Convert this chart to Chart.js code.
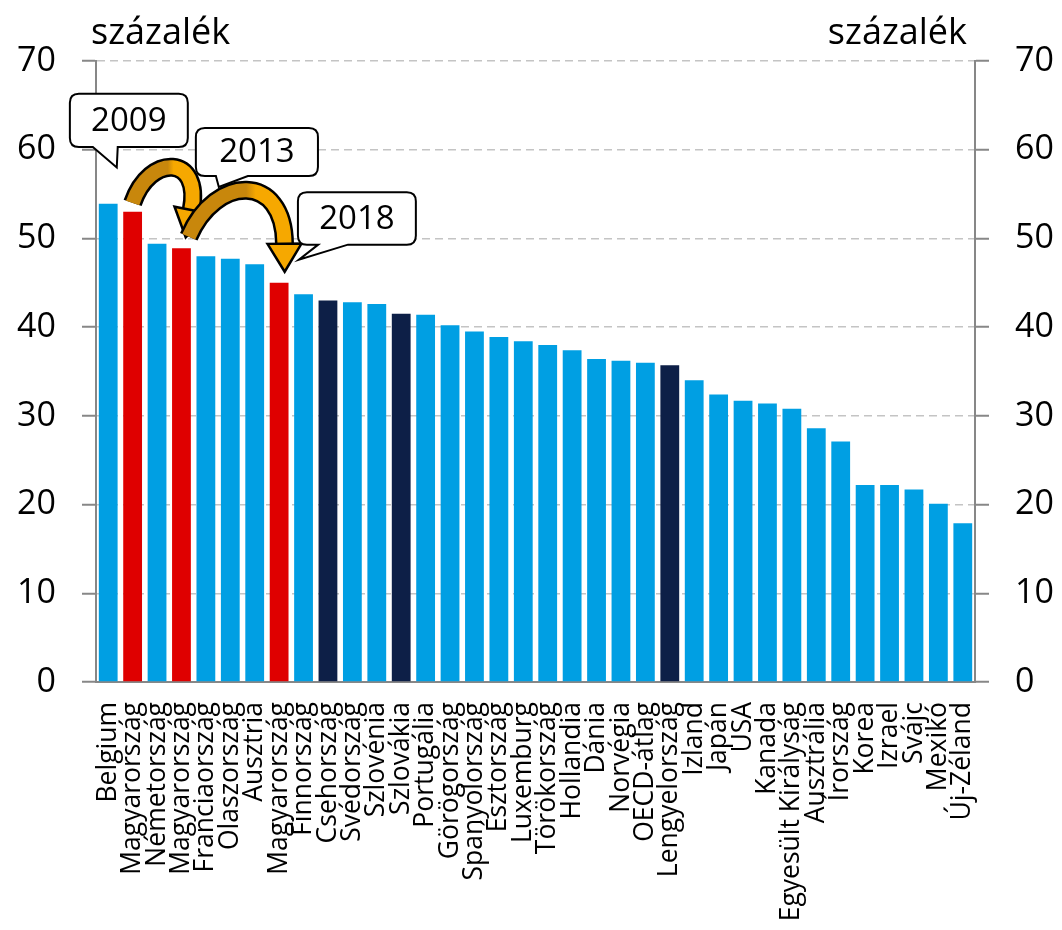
<!DOCTYPE html>
<html>
<head>
<meta charset="utf-8">
<script src="https://cdn.jsdelivr.net/npm/chart.js@4.4.1/dist/chart.umd.min.js"></script>
<style>
  html, body { margin: 0; padding: 0; background: #fff; }
  canvas { display: block; }
</style>
</head>
<body>
<canvas id="chart" width="1062" height="930"></canvas>
<script>
const countries = [
  'Belgium', 'Magyarország', 'Németország', 'Magyarország', 'Franciaország',
  'Olaszország', 'Ausztria', 'Magyarország', 'Finnország', 'Csehország',
  'Svédország', 'Szlovénia', 'Szlovákia', 'Portugália', 'Görögország',
  'Spanyolország', 'Észtország', 'Luxemburg', 'Törökország', 'Hollandia',
  'Dánia', 'Norvégia', 'OECD-átlag', 'Lengyelország', 'Izland',
  'Japán', 'USA', 'Kanada', 'Egyesült Királyság', 'Ausztrália',
  'Írország', 'Korea', 'Izrael', 'Svájc', 'Mexikó', 'Új-Zéland'
];
const values = [
  53.9, 53.0, 49.4, 48.9, 48.0,
  47.7, 47.1, 45.0, 43.7, 43.0,
  42.8, 42.6, 41.5, 41.4, 40.2,
  39.5, 38.9, 38.4, 38.0, 37.4,
  36.4, 36.2, 36.0, 35.7, 34.0,
  32.4, 31.7, 31.4, 30.8, 28.6,
  27.1, 22.2, 22.2, 21.7, 20.1, 17.9
];
const yTicks = [0, 10, 20, 30, 40, 50, 60, 70];
const unitLabel = 'százalék';
const visegrad = ['Csehország', 'Szlovákia', 'Lengyelország'];
const hungary = 'Magyarország';

// callouts: year text, box (category index / value units), tail base and tip
const callouts = [
  { text: '2009', x0: -1.57, x1: 3.26, top: 66.3, bottom: 60.3, tailA: -0.63, tailB: 0.39, tip: [0.35, 58.0] },
  { text: '2013', x0: 3.59, x1: 8.59, top: 62.45, bottom: 57.04, tailA: 4.41, tailB: 5.72, tip: [4.53, 55.8] },
  { text: '2018', x0: 7.77, x1: 12.6, top: 55.2, bottom: 49.3, tailA: 8.6, tailB: 9.82, tip: [7.81, 47.6] }
];
// curved arrows: start, control1, control2, end
const arrows = [
  [[1.0, 54.0], [1.7, 59.6], [3.85, 59.4], [3.4, 53.2]],
  [[3.3, 50.2], [4.4, 57.2], [7.2, 57.4], [7.22, 49.4]]
];

const BLUE = '#009FE3', RED = '#DF0000', NAVY = '#0D1F47', AXIS = '#878787';
const FONT = "'Open Sans', 'Liberation Sans', sans-serif";

const barColors = countries.map(c =>
  c === hungary ? RED : (visegrad.includes(c) ? NAVY : BLUE));

const annotations = {
  id: 'annotations',
  afterDraw(chart) {
    const ctx = chart.ctx;
    const xs = chart.scales.x, ys = chart.scales.y;
    const P = (i, v) => ({ x: xs.getPixelForValue(i), y: ys.getPixelForValue(v) });

    // unit labels
    ctx.save();
    ctx.fillStyle = '#000';
    ctx.font = '36px ' + FONT;
    ctx.textBaseline = 'alphabetic';
    ctx.textAlign = 'left';
    ctx.fillText(unitLabel, 91, 44);
    ctx.textAlign = 'right';
    ctx.fillText(unitLabel, 967, 44);
    ctx.restore();

    // arrows
    arrows.forEach(a => {
      const [s, c1, c2, e] = a.map(p => P(p[0], p[1]));
      const dx = e.x - c2.x, dy = e.y - c2.y, len = Math.hypot(dx, dy);
      const ux = dx / len, uy = dy / len, nx = -uy, ny = ux;
      const headLen = 28, headW = 17;
      ctx.save();
      ctx.lineCap = 'butt';
      ctx.beginPath();
      ctx.moveTo(s.x, s.y);
      ctx.bezierCurveTo(c1.x, c1.y, c2.x, c2.y, e.x, e.y);
      ctx.strokeStyle = '#000';
      ctx.lineWidth = 19;
      ctx.stroke();
      const g = ctx.createLinearGradient(s.x, 0, e.x, 0);
      g.addColorStop(0, '#C8870C');
      g.addColorStop(0.6, '#C8870C');
      g.addColorStop(0.7, '#F6A800');
      g.addColorStop(1, '#F6A800');
      ctx.strokeStyle = g;
      ctx.lineWidth = 14;
      ctx.stroke();
      ctx.beginPath();
      ctx.moveTo(e.x + nx * headW, e.y + ny * headW);
      ctx.lineTo(e.x + ux * headLen, e.y + uy * headLen);
      ctx.lineTo(e.x - nx * headW, e.y - ny * headW);
      ctx.closePath();
      ctx.fillStyle = '#F6A800';
      ctx.fill();
      ctx.strokeStyle = '#000';
      ctx.lineWidth = 2.5;
      ctx.lineJoin = 'miter';
      ctx.stroke();
      ctx.restore();
    });

    // callouts
    callouts.forEach(c => {
      const tl = P(c.x0, c.top), br = P(c.x1, c.bottom);
      const a = P(c.tailA, c.bottom), b = P(c.tailB, c.bottom), t = P(c.tip[0], c.tip[1]);
      const x = tl.x, y = tl.y, w = br.x - tl.x, h = br.y - tl.y, r = 9;
      ctx.save();
      ctx.beginPath();
      ctx.moveTo(x + r, y);
      ctx.lineTo(x + w - r, y);
      ctx.quadraticCurveTo(x + w, y, x + w, y + r);
      ctx.lineTo(x + w, y + h - r);
      ctx.quadraticCurveTo(x + w, y + h, x + w - r, y + h);
      ctx.lineTo(b.x, y + h);
      ctx.lineTo(t.x, t.y);
      ctx.lineTo(a.x, y + h);
      ctx.lineTo(x + r, y + h);
      ctx.quadraticCurveTo(x, y + h, x, y + h - r);
      ctx.lineTo(x, y + r);
      ctx.quadraticCurveTo(x, y, x + r, y);
      ctx.closePath();
      ctx.fillStyle = '#fff';
      ctx.fill();
      ctx.strokeStyle = '#000';
      ctx.lineWidth = 2;
      ctx.stroke();
      ctx.fillStyle = '#000';
      ctx.font = '33px ' + FONT;
      ctx.textAlign = 'center';
      ctx.textBaseline = 'middle';
      ctx.fillText(c.text, x + w / 2, y + h / 2 + 1);
      ctx.restore();
    });
  }
};

const yAxis = (position, width) => ({
  position,
  min: 0,
  max: 70,
  afterBuildTicks: scale => { scale.ticks = yTicks.map(v => ({ value: v })); },
  afterFit: scale => { scale.width = width; },
  ticks: { color: '#000', font: { size: 34, family: FONT }, padding: 26 },
  border: { display: true, color: AXIS, width: 2, dash: [8, 5] },
  grid: {
    drawOnChartArea: position === 'left',
    color: ctx => ctx.tick && ctx.tick.value === 0 ? 'rgba(0,0,0,0)' : '#C4C4C4',
    lineWidth: 1.5,
    tickLength: 14,
    tickColor: AXIS,
    tickWidth: 2
  }
});

new Chart(document.getElementById('chart'), {
  type: 'bar',
  data: {
    labels: countries,
    datasets: [{
      data: values,
      backgroundColor: barColors,
      barPercentage: 0.77,
      categoryPercentage: 1.0
    }]
  },
  options: {
    responsive: false,
    animation: false,
    devicePixelRatio: 1,
    layout: { padding: { top: 61, left: 0, right: 0, bottom: 0 } },
    plugins: { legend: { display: false }, tooltip: { enabled: false } },
    scales: {
      x: {
        offset: true,
        afterFit: scale => { scale.height = 248; },
        ticks: {
          color: '#000',
          font: { size: 26.5, family: FONT },
          minRotation: 90,
          maxRotation: 90,
          autoSkip: false,
          padding: 20
        },
        border: { display: true, color: AXIS, width: 2 },
        grid: { drawOnChartArea: false, drawTicks: false }
      },
      y: yAxis('left', 96),
      y2: yAxis('right', 87)
    }
  },
  plugins: [annotations]
});
</script>
</body>
</html>
